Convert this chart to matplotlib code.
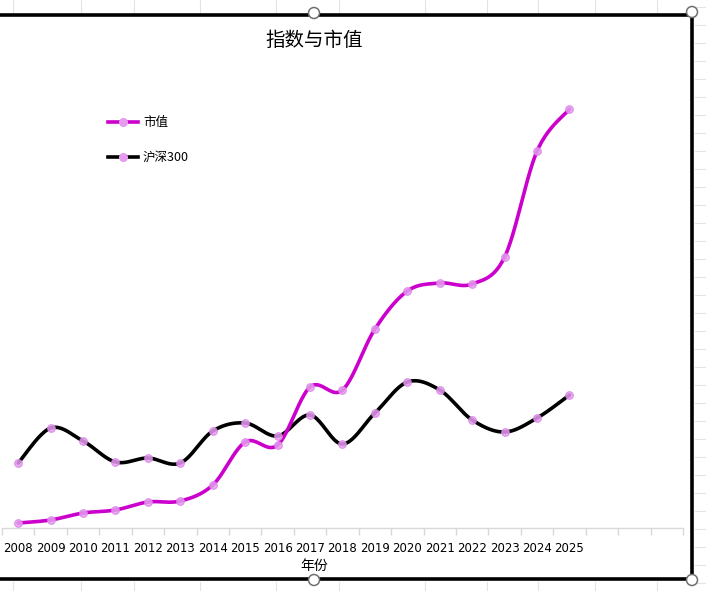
import numpy as np
import matplotlib
matplotlib.use("Agg")
import matplotlib.pyplot as plt
from matplotlib.lines import Line2D
from matplotlib.patches import Circle

plt.rcParams['font.family'] = ['Noto Sans CJK SC', 'DejaVu Sans']

# data (no y axis shown, arbitrary units)
years = ['2008', '2009', '2010', '2011', '2012', '2013', '2014', '2015', '2016',
         '2017', '2018', '2019', '2020', '2021', '2022', '2023', '2024', '2025']
extra_slots = 3  # empty categories on the right of the axis
market_cap = [200, 320, 600, 720, 1040, 1080, 1720, 3440, 3320,
              5640, 5520, 7960, 9480, 9800, 9760, 10840, 15080, 16760]
hs300 = [2600, 4000, 3480, 2640, 2800, 2600, 3880, 4200, 3680,
         4520, 3360, 4600, 5840, 5520, 4320, 3840, 4400, 5320]

MAGENTA = '#CC00CC'
MARKER = '#E59BEF'


def smooth(y, n=24):
    """Excel style smoothed line (Catmull-Rom through the points)."""
    y = np.asarray(y, float)
    x = np.arange(len(y), dtype=float)
    xs, ys = [], []
    for i in range(len(y) - 1):
        p0 = np.array([x[max(i - 1, 0)], y[max(i - 1, 0)]])
        p1 = np.array([x[i], y[i]])
        p2 = np.array([x[i + 1], y[i + 1]])
        p3 = np.array([x[min(i + 2, len(y) - 1)], y[min(i + 2, len(y) - 1)]])
        c1 = p1 + (p2 - p0) / 6
        c2 = p2 - (p3 - p1) / 6
        t = np.linspace(0, 1, n)[:, None]
        pts = ((1 - t) ** 3) * p1 + 3 * ((1 - t) ** 2) * t * c1 + 3 * (1 - t) * t ** 2 * c2 + t ** 3 * p2
        xs.extend(pts[:, 0])
        ys.extend(pts[:, 1])
    return np.array(xs), np.array(ys)


W, H = 706, 591
fig = plt.figure(figsize=(W / 100, H / 100), dpi=100)
fig.patch.set_facecolor('white')

# plot area in pixels
left, right, bottom, top = 2, 683, 528, 60
ax = fig.add_axes([left / W, 1 - bottom / H, (right - left) / W, (bottom - top) / H])
ax.set_xlim(-0.5, len(years) + extra_slots - 0.5)
ax.set_ylim(0, (bottom - top) * 40)

for vals, col in [(hs300, 'black'), (market_cap, MAGENTA)]:
    sx, sy = smooth(vals)
    ax.plot(sx, sy, color=col, lw=2.6, solid_capstyle='round', zorder=3)
    ax.plot(range(len(vals)), vals, ls='none', marker='o', ms=5.5,
            mfc=MARKER, mec='#DA85E8', mew=0.8, alpha=0.85, zorder=4)

for s in ['left', 'right', 'top']:
    ax.spines[s].set_visible(False)
ax.spines['bottom'].set_color('#D9D9D9')
ax.spines['bottom'].set_linewidth(1)
ax.set_yticks([])
ax.set_xticks(range(len(years)))
ax.set_xticklabels(years, fontsize=8.5, family=['DejaVu Sans'])
ax.set_xticks(np.arange(-0.5, len(years) + extra_slots), minor=True)
ax.tick_params(axis='x', which='major', length=0, pad=10)
ax.tick_params(axis='x', which='minor', length=5, color='#D9D9D9', width=1)

handles = [Line2D([], [], color=MAGENTA, lw=2.6, marker='o', ms=5.5, mfc=MARKER, mec=MARKER),
           Line2D([], [], color='black', lw=2.6, marker='o', ms=5.5, mfc=MARKER, mec=MARKER)]
fig.legend(handles, ['市值', '沪深300'], loc='upper left',
           bbox_to_anchor=(108 / W, 1 - 116 / H), frameon=False, borderpad=0,
           borderaxespad=0, handlelength=2.4, handletextpad=0.4,
           labelspacing=1.75, fontsize=9)

fig.text(314 / W, 1 - 40 / H, '指数与市值', ha='center', va='center', fontsize=14)
fig.text(314 / W, 1 - 566 / H, '年份', ha='center', va='center', fontsize=10)

# chart frame, sheet grid and selection handles
ov = fig.add_axes([0, 0, 1, 1], zorder=10)
ov.set_xlim(0, W)
ov.set_ylim(H, 0)
ov.axis('off')
ov.patch.set_alpha(0)
grid_x = [13, 81, 134, 200, 276, 339, 425, 487, 538, 595, 657]
for gx in grid_x:
    ov.plot([gx, gx], [0, 13], color='#E3E3E3', lw=0.8)
    ov.plot([gx, gx], [582, H], color='#E3E3E3', lw=0.8)
for gy in np.arange(7, H, 18):
    ov.plot([695, W], [gy, gy], color='#E3E3E3', lw=0.8)
ov.plot([0, 692, 692, 0], [15, 15, 579, 579], color='black', lw=2.6,
        solid_joinstyle='miter')
for hx, hy in [(314, 13), (692, 12), (314, 580), (692, 580)]:
    ov.add_patch(Circle((hx, hy), 5.5, facecolor='white', edgecolor='#707070', lw=1.1, zorder=12))

fig.savefig('out.png', dpi=100)
